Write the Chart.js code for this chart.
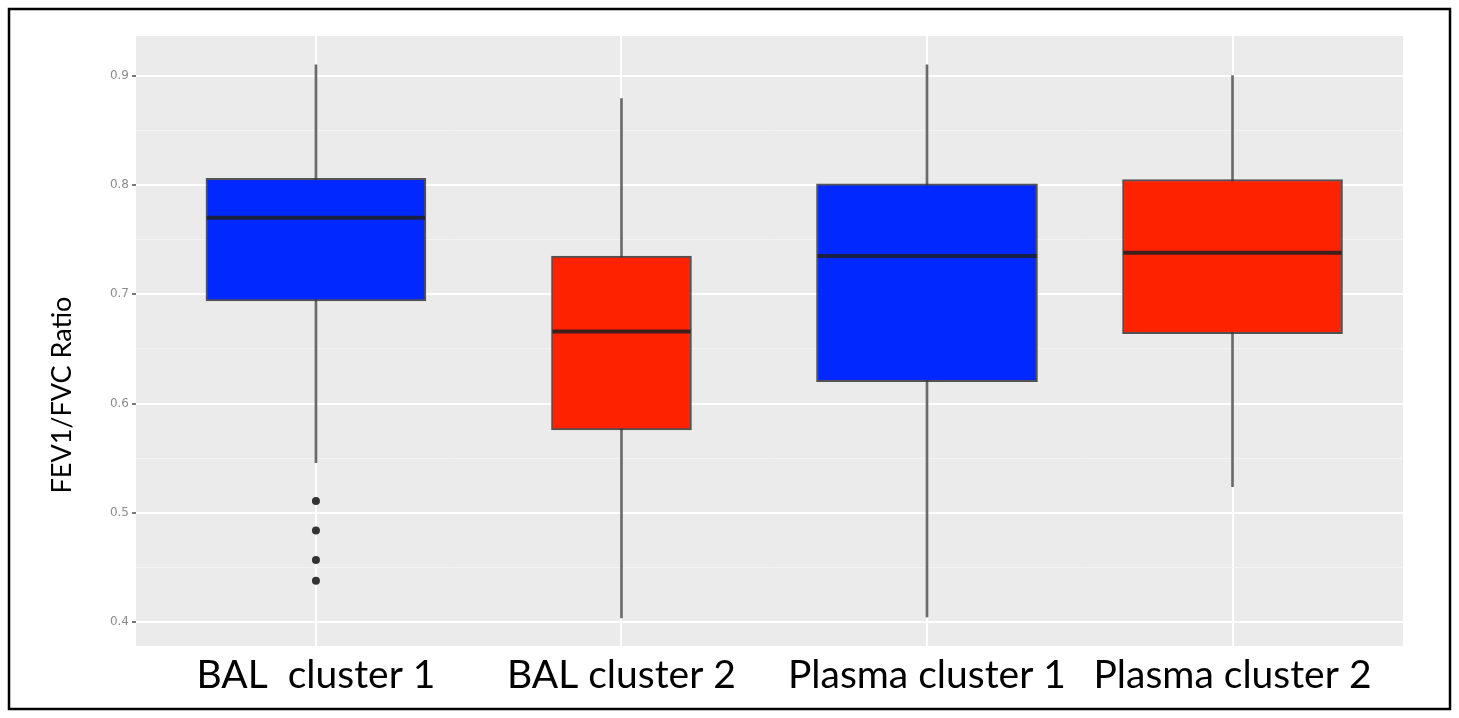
<!DOCTYPE html>
<html>
<head>
<meta charset="utf-8">
<script src="https://cdn.jsdelivr.net/npm/chart.js@4.4.1/dist/chart.umd.min.js"></script>
<style>
  html, body { margin: 0; padding: 0; background: #ffffff; }
  #wrap { width: 1459px; height: 718px; }
</style>
</head>
<body>
<div id="wrap"><canvas id="c" width="1459" height="718"></canvas></div>
<script>
// Groups and their box-plot summaries (FEV1/FVC ratio)
const categories = ['BAL  cluster 1', 'BAL cluster 2', 'Plasma cluster 1', 'Plasma cluster 2'];
const whiskerLow  = [0.546, 0.404, 0.405, 0.524];
const q1          = [0.694, 0.576, 0.620, 0.664];
const medians     = [0.770, 0.666, 0.735, 0.738];
const q3          = [0.806, 0.735, 0.801, 0.805];
const whiskerHigh = [0.910, 0.879, 0.910, 0.900];
const outliers    = [[0.511, 0.484, 0.457, 0.438], [], [], []];

// Axis ticks
const yMajorTicks = [0.4, 0.5, 0.6, 0.7, 0.8, 0.9];
const yMinorTicks = [0.45, 0.55, 0.65, 0.75, 0.85];
const yTitle = 'FEV1/FVC Ratio';

// Styling
const boxColors = ['#0028ff', '#ff2200', '#0028ff', '#ff2200'];
const boxWidths = [220, 140, 221, 220];

const isMajor = v => yMajorTicks.some(t => Math.abs(t - v) < 1e-6);

const panelBackground = {
  id: 'panelBackground',
  beforeDraw(chart) {
    const { ctx, chartArea: a } = chart;
    ctx.save();
    ctx.fillStyle = '#ebebeb';
    ctx.fillRect(a.left, a.top, a.right - a.left, a.bottom - a.top);
    ctx.restore();
  }
};

const medianLines = {
  id: 'medianLines',
  afterDatasetsDraw(chart) {
    const { ctx } = chart;
    const yScale = chart.scales.y;
    ctx.save();
    ctx.strokeStyle = 'rgba(30,30,30,0.85)';
    ctx.lineWidth = 4;
    categories.forEach((c, i) => {
      const el = chart.getDatasetMeta(i).data[0];
      if (!el) return;
      const { x, width } = el.getProps(['x', 'width'], true);
      const y = yScale.getPixelForValue(medians[i]);
      ctx.beginPath();
      ctx.moveTo(x - width / 2 + 1, y);
      ctx.lineTo(x + width / 2 - 1, y);
      ctx.stroke();
    });
    ctx.restore();
  }
};

const frameAndTitle = {
  id: 'frameAndTitle',
  afterDraw(chart) {
    const { ctx } = chart;
    ctx.save();
    // y axis title
    ctx.translate(62, 395);
    ctx.rotate(-Math.PI / 2);
    ctx.fillStyle = '#000000';
    ctx.font = '27px Lato';
    ctx.textAlign = 'center';
    ctx.textBaseline = 'middle';
    ctx.fillText(yTitle, 0, 0);
    ctx.restore();
    // outer frame
    ctx.save();
    ctx.strokeStyle = '#000000';
    ctx.lineWidth = 2.5;
    ctx.strokeRect(9, 9, 1441, 700);
    ctx.restore();
  }
};

const boxDatasets = categories.map((c, i) => ({
  type: 'bar',
  label: c,
  data: [{ x: i, y: [q1[i], q3[i]] }],
  backgroundColor: boxColors[i],
  borderColor: 'rgba(55,55,55,0.85)',
  borderWidth: 2,
  borderSkipped: false,
  barThickness: boxWidths[i],
  grouped: false,
  order: 1
}));

const whiskerDataset = {
  type: 'bar',
  label: 'whiskers',
  data: categories.map((c, i) => ({ x: i, y: [whiskerLow[i], whiskerHigh[i]] })),
  backgroundColor: '#6a6a6a',
  borderWidth: 0,
  barThickness: 2,
  grouped: false,
  order: 2
};

const outlierDataset = {
  type: 'scatter',
  label: 'outliers',
  data: outliers.flatMap((vals, i) => vals.map(v => ({ x: i, y: v }))),
  backgroundColor: '#333333',
  borderWidth: 0,
  pointRadius: 4,
  order: 0
};

new Chart(document.getElementById('c'), {
  type: 'bar',
  data: { datasets: [...boxDatasets, whiskerDataset, outlierDataset] },
  options: {
    responsive: false,
    animation: false,
    devicePixelRatio: 1,
    layout: { padding: { left: 0, top: 36, right: 56, bottom: 0 } },
    plugins: { legend: { display: false }, tooltip: { enabled: false } },
    scales: {
      x: {
        type: 'linear',
        offset: false,
        min: -0.589,
        max: 3.558,
        afterBuildTicks: s => { s.ticks = categories.map((c, i) => ({ value: i })); },
        afterFit: s => { s.height = 72; },
        ticks: {
          autoSkip: false,
          maxRotation: 0,
          padding: 6,
          color: '#000000',
          font: { family: 'Lato', size: 39 },
          callback: v => categories[v]
        },
        grid: { offset: false, color: '#ffffff', lineWidth: 2, drawTicks: false },
        border: { display: false }
      },
      y: {
        min: 0.3783,
        max: 0.9363,
        afterBuildTicks: s => {
          s.ticks = [...yMajorTicks, ...yMinorTicks].sort((a, b) => a - b).map(v => ({ value: v }));
        },
        afterFit: s => { s.width = 136; },
        ticks: {
          autoSkip: false,
          padding: 3,
          color: '#8c8c8c',
          font: { family: 'DejaVu Sans', size: 12 },
          callback: v => isMajor(v) ? v.toFixed(1) : ''
        },
        grid: {
          color: c => isMajor(c.tick.value) ? '#ffffff' : '#f4f4f4',
          lineWidth: c => isMajor(c.tick.value) ? 2 : 1,
          tickColor: c => isMajor(c.tick.value) ? '#777777' : 'rgba(0,0,0,0)',
          tickLength: 4,
          tickWidth: 2
        },
        border: { display: false }
      }
    }
  },
  plugins: [panelBackground, medianLines, frameAndTitle]
});
</script>
</body>
</html>
